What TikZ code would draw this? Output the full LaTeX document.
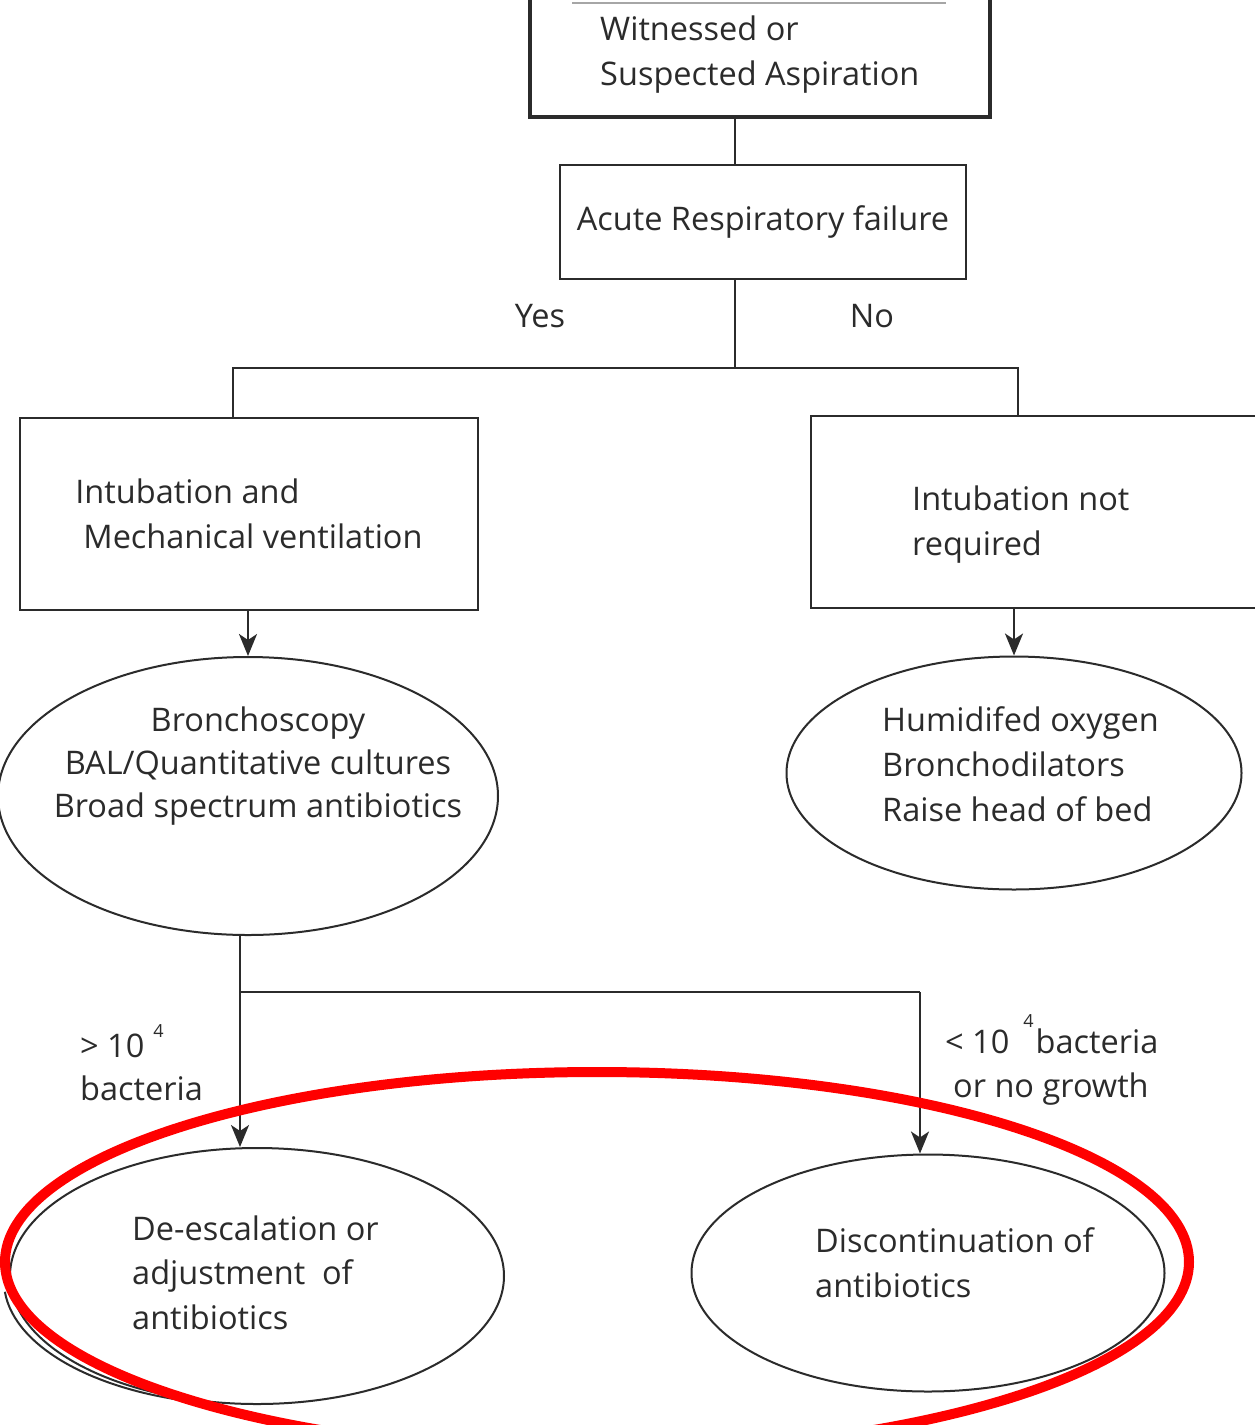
\documentclass[tikz,border=0pt]{standalone}
\usepackage{fontspec}
\setmainfont{Open Sans}
\usetikzlibrary{shapes.geometric,arrows.meta}
\definecolor{ink}{HTML}{2B2B2B}
\newcommand{\supfour}[1]{\raisebox{#1}{\fontsize{18}{18}\selectfont 4}}
\begin{document}
\begin{tikzpicture}[x=1pt,y=-1pt,
  txt/.style={font=\fontsize{32.5}{45}\selectfont, text=ink, inner sep=0pt},
  boxstyle/.style={draw=ink, line width=2.5pt, rectangle, inner sep=0pt},
  ellstyle/.style={draw=ink, line width=2pt, ellipse, inner sep=0pt},
  conn/.style={draw=ink, line width=2.5pt},
  arr/.style={conn, -{Stealth[length=22pt,width=18pt,inset=6pt]}},
]
\useasboundingbox (0,0) rectangle (1255,1425);
\fill[white] (0,0) rectangle (1255,1425);

% boxes
\node[boxstyle, line width=4.5pt, minimum width=460pt, minimum height=137pt] (box1) at (760,48.5) {};
\draw[gray!70, line width=1.2pt] (572,3) -- (946,3);
\node[txt, align=left, anchor=base west] (t1) at (600,85) {Witnessed or\\Suspected Aspiration};

\node[boxstyle, txt, draw=ink, line width=2.5pt, minimum width=406pt, minimum height=114pt] (box2) at (763,222) {Acute Respiratory failure};

\node[boxstyle, txt, draw=ink, line width=2.5pt, align=left, minimum width=458pt, minimum height=192pt] (box3) at (249,514) {Intubation and\\\hspace*{8pt}Mechanical ventilation};

\node[boxstyle, minimum width=489pt, minimum height=192pt] (box4) at (1055.5,512) {};
\node[txt, align=left, anchor=base west] (t4) at (912,555) {Intubation not\\required};

\node[txt] (yes) at (540,316) {Yes};
\node[txt] (no) at (872,316) {No};

% ellipses
\node[ellstyle, minimum width=500pt, minimum height=278pt] (ell1) at (248,796) {};
\node[txt, align=center, anchor=base, font=\fontsize{32.5}{43}\selectfont] (te1) at (258,817) {Bronchoscopy\\BAL/Quantitative cultures\\Broad spectrum antibiotics};

\node[ellstyle, minimum width=455pt, minimum height=233pt] (ell2) at (1014,773) {};
\node[txt, align=left, anchor=base west, font=\fontsize{32.5}{45}\selectfont] (te2) at (882,821) {Humidifed oxygen\\Bronchodilators\\Raise head of bed};

\node[ellstyle, minimum width=494pt, minimum height=256pt] (ell3) at (257,1276) {};
\draw[ink, line width=2pt] (4.9,1291.8) arc[start angle=175, end angle=100, x radius=246, y radius=124];
\node[txt, align=left, anchor=base west, font=\fontsize{32.5}{44.5}\selectfont] (te3) at (132,1329) {De-escalation or\\adjustment\ \ of\\antibiotics};

\node[ellstyle, minimum width=473pt, minimum height=237pt] (ell4) at (928,1273) {};
\node[txt, align=left, anchor=base west] (te4) at (815,1297) {Discontinuation of\\antibiotics};

% labels
\node[txt, align=left, anchor=base west, font=\fontsize{32.5}{43}\selectfont] (lg) at (80,1100) {> 10\hspace{9pt}\supfour{20pt}\\bacteria};
\node[txt, align=left, anchor=base west, font=\fontsize{32.5}{44}\selectfont] (ll) at (945,1097) {< 10\hspace{14pt}\supfour{26pt}\hspace{2pt}bacteria\\\hspace*{8pt}or no growth};

% connectors
\coordinate (sp) at (735,368);
\coordinate (yj) at (233,368);
\coordinate (nj) at (1018,368);
\draw[conn] (box1.south -| sp) -- (box2.north -| sp);
\draw[conn] (box2.south -| sp) -- (sp);
\draw[conn] (box3.north -| yj) -- (yj) -- (nj) -- (box4.north -| nj);
\draw[arr] (box3.south -| ell1.north) -- (ell1.north);
\draw[arr] (box4.south -| ell2.north) -- (ell2.north);

\coordinate (b1) at (240,992);
\coordinate (b2) at (920,992);
\draw[arr] (ell1.south -| b1) -- (ell3.north -| b1);
\draw[conn] (b1) -- (b2);
\draw[arr] (b2) -- (ell4.north -| b2);

% red highlight
\draw[red, line width=10pt] (597,1262) ellipse [x radius=592, y radius=190];
\end{tikzpicture}
\end{document}
